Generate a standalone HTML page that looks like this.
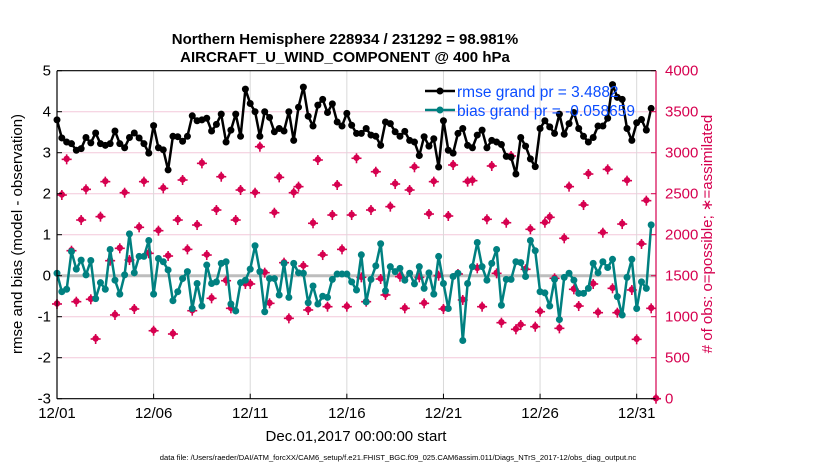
<!DOCTYPE html>
<html><head><meta charset="utf-8">
<style>
html,body{margin:0;padding:0;background:#fff;}
svg{display:block;font-family:"Liberation Sans",Arial,sans-serif;}
</style></head>
<body>
<svg id="chart" width="830" height="470" viewBox="0 0 830 470" xmlns="http://www.w3.org/2000/svg">
<rect x="0" y="0" width="830" height="470" fill="#fff"/>
<g id="grid"></g>
<g id="series"></g>
<g id="axes"></g>
<text x="345" y="44" text-anchor="middle" font-size="15" font-weight="bold">Northern Hemisphere 228934 / 231292 = 98.981%</text>
<text x="345" y="62" text-anchor="middle" font-size="15" font-weight="bold">AIRCRAFT_U_WIND_COMPONENT @ 400 hPa</text>
<text x="356" y="441" text-anchor="middle" font-size="15">Dec.01,2017 00:00:00 start</text>
<text transform="translate(22,234) rotate(-90)" text-anchor="middle" font-size="15">rmse and bias (model - observation)</text>
<text transform="translate(712,234) rotate(-90)" text-anchor="middle" font-size="15" fill="#d6004f"># of obs: o=possible; ∗=assimilated</text>
<text x="398" y="460" text-anchor="middle" font-size="7.6">data file: /Users/raeder/DAI/ATM_forcXX/CAM6_setup/f.e21.FHIST_BGC.f09_025.CAM6assim.011/Diags_NTrS_2017-12/obs_diag_output.nc</text>
<g>
<line x1="425" y1="91" x2="455" y2="91" stroke="#000" stroke-width="2.5"/>
<circle cx="440" cy="91" r="3.5" fill="#000"/>
<text x="457" y="97" font-size="15.5" fill="#0a4cff">rmse grand pr = 3.4882</text>
<line x1="425" y1="110" x2="455" y2="110" stroke="#008080" stroke-width="2.5"/>
<circle cx="440" cy="110" r="3.5" fill="#008080"/>
<text x="457" y="116" font-size="15.5" fill="#0a4cff">bias grand pr = -0.058659</text>
</g>
</svg>
<script>
const dateTicks = ["12/01","12/06","12/11","12/16","12/21","12/26","12/31"];
const dateTickDays = [0,5,10,15,20,25,30];
const leftTicks = [5,4,3,2,1,0,-1,-2,-3];
const rightTicks = [4000,3500,3000,2500,2000,1500,1000,500,0];
const rmse = [3.80,3.36,3.26,3.22,3.06,3.10,3.37,3.24,3.48,3.22,3.18,3.22,3.53,3.22,3.12,3.37,3.48,3.36,3.22,2.99,3.66,3.12,3.07,2.58,3.40,3.39,3.28,3.40,3.90,3.78,3.80,3.84,3.53,3.69,3.94,3.26,3.55,3.94,3.40,4.55,4.20,4.00,3.40,4.00,3.86,3.51,3.59,3.53,4.00,3.30,4.11,4.60,3.89,3.65,4.16,4.30,3.98,4.19,3.75,3.65,3.96,3.67,3.47,
3.47,3.59,3.43,3.40,3.18,3.75,3.71,3.51,3.40,3.52,3.30,3.26,2.93,3.39,3.16,3.34,2.65,3.78,3.06,2.99,3.47,3.59,3.18,3.12,3.43,3.55,3.12,3.30,3.26,3.20,2.91,2.89,2.48,3.37,3.16,2.85,2.66,3.59,3.78,3.63,3.47,3.94,3.45,3.71,3.98,3.59,3.40,3.26,3.37,3.65,3.65,3.84,4.66,4.35,4.30,3.59,3.30,3.73,3.81,3.55,4.08];
const bias = [0.06,-0.39,-0.33,0.59,0.16,0.38,0.02,0.37,-0.56,-0.17,-0.33,0.64,-0.11,-0.45,0.02,1.02,0.07,0.47,0.47,0.86,-0.45,0.42,0.34,0.14,-0.61,-0.39,-0.07,0.10,-0.80,-0.19,-0.74,0.26,-0.19,-0.15,0.30,0.34,-0.69,-0.86,-0.17,-0.11,0.16,0.73,0.10,-0.88,-0.07,-0.07,-0.47,0.30,-0.53,0.30,0.07,0.06,-0.66,-0.25,-0.69,-0.50,-0.53,-0.09,0.04,0.04,0.04,-0.15,-0.35,
0.51,-0.64,-0.09,0.24,0.78,-0.37,0.22,0.10,0.18,-0.11,0.06,-0.20,0.22,-0.31,0.07,-0.45,0.47,-0.19,-0.80,-0.02,0.06,-1.58,-0.19,0.22,0.81,0.22,-0.11,0.30,0.64,-0.72,-0.09,-0.09,0.34,0.32,-0.02,0.86,0.61,-0.39,-0.42,-0.74,-0.09,-1.07,-0.04,0.06,-0.11,-0.43,-0.43,-0.31,0.30,0.07,0.34,0.20,0.40,-0.51,-0.96,-0.04,0.40,-0.80,-0.15,-0.31,1.24];
const obsCount = [1155,2484,2919,1805,1183,2179,2553,1212,728,2220,2647,1683,1021,1834,2512,1691,1094,2090,2647,1773,829,2049,2565,1740,789,2179,2667,1821,1073,2118,2870,1752,
1224,2301,2707,1439,1102,2179,2545,1399,1399,2512,3073,1537,1163,2268,2699,1659,980,2512,2586,1618,1082,2139,2911,1752,1122,2240,2606,1821,1122,2240,2932,
1480,1183,2301,2768,1460,1265,2342,2618,1488,1102,2545,2822,1480,1163,2252,2647,1500,1094,2228,2850,1521,1204,2647,2659,1590,1122,2188,2838,1529,927,2146,
2960,846,899,1578,2066,878,1061,2146,2212,1468,858,1956,2586,1334,1130,2362,2740,1399,1049,2024,2797,1346,1049,2130,2659,1326,724,1887,2415,1102,0];

const NS = "http://www.w3.org/2000/svg";
const X0 = 57, X1 = 656, Y0 = 70.7, Y1 = 398.7;
const xS = d => X0 + (d / 31) * (X1 - X0);
const yL = v => Y0 + (5 - v) / 8 * (Y1 - Y0);
const yR = c => Y1 - c / 4000 * (Y1 - Y0);
function mk(tag, attrs, parent) {
  const e = document.createElementNS(NS, tag);
  for (const k in attrs) e.setAttribute(k, attrs[k]);
  parent.appendChild(e);
  return e;
}
const grid = document.getElementById('grid');
const series = document.getElementById('series');
const axes = document.getElementById('axes');

leftTicks.forEach((t, i) => {
  const y = yL(t);
  if (t !== 5 && t !== -3) {
    const g = mk('line', {x1: X0, x2: X1, y1: y, y2: y, stroke: '#f4c8da', 'stroke-width': 1}, grid);
    
    
  }
  mk('line', {x1: X0, x2: X0 + 5, y1: y, y2: y, stroke: '#000'}, axes);
  const tx = mk('text', {x: X0 - 6, y: y + 5, 'text-anchor': 'end', 'font-size': 15}, axes);
  tx.textContent = t;
  
  
});
rightTicks.forEach(t => {
  const y = yR(t);
  mk('line', {x1: X1 - 5, x2: X1, y1: y, y2: y, stroke: '#d6004f'}, axes);
  const tx = mk('text', {x: X1 + 9, y: y + 5, 'font-size': 15, fill: '#d6004f'}, axes);
  tx.textContent = t;
  
  
});
dateTicks.forEach((t, i) => {
  const x = xS(dateTickDays[i]);
  if (i > 0) {
    const g = mk('line', {x1: x, x2: x, y1: Y0, y2: Y1, stroke: '#d9d9d9', 'stroke-width': 1}, grid);
    
    
  }
  mk('line', {x1: x, x2: x, y1: Y1 - 5, y2: Y1, stroke: '#000'}, axes);
  const tx = mk('text', {x: x, y: 418, 'text-anchor': 'middle', 'font-size': 15}, axes);
  tx.textContent = t;
  
  
});
const zl = mk('line', {x1: X0, x2: X1, y1: yL(0), y2: yL(0), stroke: '#bdbdbd', 'stroke-width': 3}, grid);



// obs counts
obsCount.forEach((c, i) => {
  const x = xS(i * 0.25), y = yR(c);
  const g = mk('g', {stroke: '#d6004f', 'stroke-width': 1.6, fill: '#d6004f'}, series);
  
  
  mk('circle', {cx: x, cy: y - 0.5, r: 3.2, stroke: 'none'}, g);
  mk('line', {x1: x - 5, x2: x + 5, y1: y, y2: y}, g);
  mk('line', {x1: x, x2: x, y1: y - 5, y2: y + 5}, g);
});

function drawLine(arr, color, name) {
  const pts = arr.map((v, i) => xS(i * 0.25).toFixed(1) + ',' + yL(v).toFixed(1)).join(' ');
  const pl = mk('polyline', {points: pts, fill: 'none', stroke: color, 'stroke-width': 2.5, 'stroke-linejoin': 'round'}, series);
  
  
  arr.forEach((v, i) => {
    const c = mk('circle', {cx: xS(i * 0.25), cy: yL(v), r: 3.5, fill: color}, series);
    
    
  });
}
drawLine(bias, '#008080', 'bias');
drawLine(rmse, '#000000', 'rmse');

const la = mk('line', {x1: X0, x2: X0, y1: Y0, y2: Y1, stroke: '#000', 'stroke-width': 1.2}, axes);


const ba = mk('line', {x1: X0, x2: X1, y1: Y1, y2: Y1, stroke: '#000', 'stroke-width': 1.2}, axes);


const ta = mk('line', {x1: X0, x2: X1, y1: Y0, y2: Y0, stroke: '#000', 'stroke-width': 1.2}, axes);


const ra = mk('line', {x1: X1, x2: X1, y1: Y0, y2: Y1, stroke: '#d6004f', 'stroke-width': 1.2}, axes);


</script>
</body></html>
